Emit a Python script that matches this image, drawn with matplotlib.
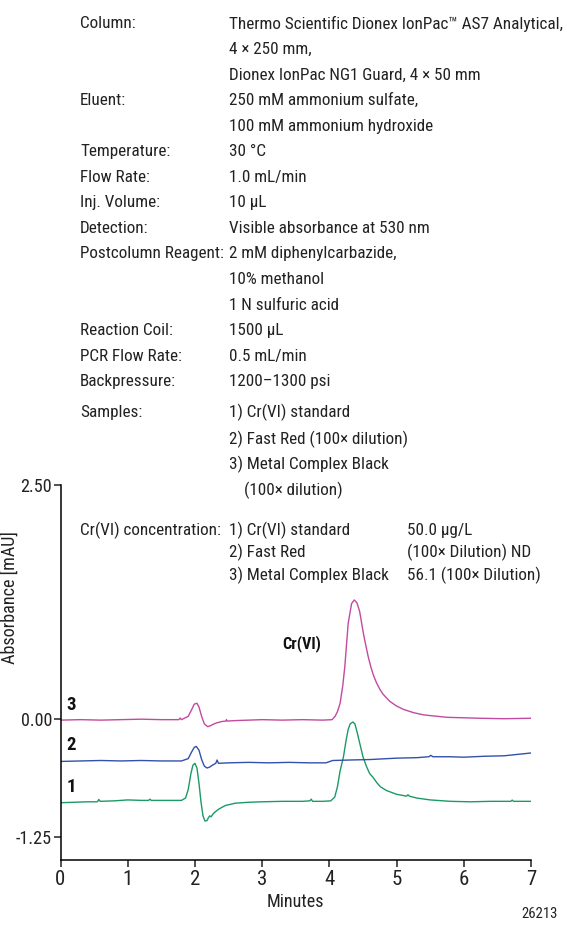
import matplotlib
matplotlib.use("Agg")
import matplotlib.pyplot as plt
from matplotlib import font_manager
from matplotlib.font_manager import FontProperties

# ---------------- data ----------------
# Trace 3: Metal Complex Black (magenta)
t3 = [0.0, 0.3, 0.6, 0.9, 1.2, 1.5, 1.76, 1.78, 1.80, 1.90, 1.95, 1.99, 2.03, 2.06,
      2.10, 2.14, 2.19, 2.23, 2.27, 2.32, 2.40, 2.46, 2.47, 2.48, 2.6, 2.8, 3.0, 3.3,
      3.6, 3.9, 4.04, 4.085, 4.12, 4.16, 4.20, 4.23, 4.28, 4.33, 4.37, 4.41, 4.45,
      4.51, 4.55, 4.58, 4.62, 4.66, 4.70, 4.75, 4.80, 4.90, 5.00, 5.10, 5.25, 5.40,
      5.75, 6.24, 6.6, 7.0]
y3 = [-0.01, -0.005, -0.01, -0.005, 0.0, -0.005, -0.005, 0.012, -0.005, 0.03, 0.10,
      0.16, 0.17, 0.13, 0.03, -0.05, -0.08, -0.07, -0.055, -0.04, -0.025, -0.02,
      -0.005, -0.02, -0.015, -0.01, -0.005, -0.01, -0.005, -0.01, -0.005, 0.03,
      0.08, 0.17, 0.36, 0.56, 1.02, 1.23, 1.27, 1.24, 1.15, 0.90, 0.76, 0.66, 0.55,
      0.46, 0.39, 0.32, 0.265, 0.19, 0.14, 0.105, 0.07, 0.046, 0.02, 0.01, 0.005,
      0.01]

# Trace 2: Fast Red (blue)
t2 = [0.0, 0.3, 0.6, 0.9, 1.2, 1.5, 1.8, 1.90, 1.95, 1.99, 2.02, 2.06, 2.10, 2.14,
      2.18, 2.22, 2.26, 2.31, 2.33, 2.35, 2.5, 2.8, 3.1, 3.4, 3.7, 3.95, 4.05, 4.3,
      4.6, 5.0, 5.3, 5.48, 5.51, 5.54, 5.8, 6.0, 6.3, 6.6, 6.8, 7.0]
y2 = [-0.45, -0.445, -0.44, -0.445, -0.44, -0.445, -0.445, -0.42, -0.35, -0.30,
      -0.29, -0.33, -0.43, -0.50, -0.52, -0.51, -0.49, -0.47, -0.435, -0.47, -0.465,
      -0.46, -0.465, -0.46, -0.465, -0.465, -0.44, -0.435, -0.43, -0.415, -0.41,
      -0.40, -0.385, -0.40, -0.40, -0.405, -0.395, -0.39, -0.375, -0.36]

# Trace 1: Cr(VI) standard (green)
t1 = [0.0, 0.2, 0.4, 0.55, 0.57, 0.59, 0.8, 1.0, 1.2, 1.31, 1.33, 1.35, 1.6, 1.8,
      1.86, 1.90, 1.94, 1.97, 2.00, 2.03, 2.06, 2.09, 2.12, 2.15, 2.18, 2.20, 2.22,
      2.24, 2.28, 2.35, 2.45, 2.6, 2.8, 3.0, 3.3, 3.6, 3.71, 3.73, 3.75, 3.9, 4.02,
      4.08, 4.12, 4.16, 4.21, 4.25, 4.28, 4.31, 4.35, 4.38, 4.41, 4.45, 4.50, 4.55,
      4.60, 4.65, 4.68, 4.71, 4.76, 4.85, 5.0, 5.15, 5.17, 5.19, 5.3, 5.5, 5.8, 6.1,
      6.4, 6.7, 6.72, 6.74, 7.0]
y1 = [-0.89, -0.885, -0.88, -0.88, -0.855, -0.875, -0.87, -0.86, -0.865, -0.865,
      -0.852, -0.865, -0.865, -0.865, -0.84, -0.75, -0.58, -0.49, -0.47, -0.52,
      -0.68, -0.88, -1.03, -1.085, -1.08, -1.05, -1.03, -1.04, -1.00, -0.96, -0.92,
      -0.895, -0.885, -0.88, -0.875, -0.875, -0.87, -0.852, -0.875, -0.875, -0.87,
      -0.83, -0.72, -0.55, -0.40, -0.22, -0.11, -0.05, -0.03, -0.05, -0.13, -0.25,
      -0.40, -0.50, -0.58, -0.62, -0.65, -0.68, -0.72, -0.76, -0.80, -0.82, -0.805,
      -0.82, -0.84, -0.86, -0.875, -0.88, -0.875, -0.875, -0.862, -0.875, -0.875]

trace_labels = ["1", "2", "3"]
colors = ["#1b9a66", "#3450a8", "#c24a9f"]

x_ticks = [0, 1, 2, 3, 4, 5, 6, 7]
y_ticks = [-1.25, 0.0, 2.50]
y_tick_labels = ["-1.25", "0.00", "2.50"]

header_rows = [
    ("Column:", "Thermo Scientific Dionex IonPac\u2122 AS7 Analytical,"),
    ("", "4 \u00d7 250 mm,"),
    ("", "Dionex IonPac NG1 Guard, 4 \u00d7 50 mm"),
    ("Eluent:", "250 mM ammonium sulfate,"),
    ("", "100 mM ammonium hydroxide"),
    ("Temperature:", "30 \u00b0C"),
    ("Flow Rate:", "1.0 mL/min"),
    ("Inj. Volume:", "10 \u00b5L"),
    ("Detection:", "Visible absorbance at 530 nm"),
    ("Postcolumn Reagent:", "2 mM diphenylcarbazide,"),
    ("", "10% methanol"),
    ("", "1 N sulfuric acid"),
    ("Reaction Coil:", "1500 \u00b5L"),
    ("PCR Flow Rate:", "0.5 mL/min"),
    ("Backpressure:", "1200\u20131300 psi"),
]
sample_rows = [
    ("Samples:", "1) Cr(VI) standard"),
    ("", "2) Fast Red (100\u00d7 dilution)"),
    ("", "3) Metal Complex Black"),
    ("", "(100\u00d7 dilution)"),
]
conc_label = "Cr(VI) concentration:"
conc_samples = ["1) Cr(VI) standard", "2) Fast Red", "3) Metal Complex Black"]
conc_values = ["50.0 \u00b5g/L", "(100\u00d7 Dilution) ND", "56.1 (100\u00d7 Dilution)"]

# ---------------- font choice ----------------
def _w(f):
    w = f.weight
    if isinstance(w, str):
        w = font_manager.weight_dict.get(w, 400)
    return w

pref = ["liberation sans narrow", "roboto condensed", "open sans condensed",
        "dejavu sans condensed", "noto sans condensed", "arial narrow"]
cond = []
for f in font_manager.fontManager.ttflist:
    key = (f.name + " " + f.fname).lower()
    if f.style != "normal":
        continue
    if ("narrow" in key or "condensed" in key or
            f.stretch in ("condensed", "semi-condensed")) and "extra" not in key \
            and "ultra" not in key and "mono" not in key and "serif" not in key:
        cond.append(f)

def rank(f):
    key = (f.name + " " + f.fname).lower()
    for i, p in enumerate(pref):
        if p in key:
            return i
    return len(pref)

reg = sorted([f for f in cond if 350 <= _w(f) <= 500], key=rank)
bold = sorted([f for f in cond if _w(f) >= 650], key=rank)

if reg:
    FP_REG = dict(fname=reg[0].fname)
    FP_BOLD = dict(fname=bold[0].fname) if bold else dict(family="Roboto", weight="bold")
else:
    FP_REG = dict(family="Roboto")
    FP_BOLD = dict(family="Roboto", weight="bold")

def fp(size, b=False):
    d = FP_BOLD if b else FP_REG
    return FontProperties(size=size, **d)

W, H = 567, 926
fig = plt.figure(figsize=(W / 100, H / 100), dpi=100)
renderer = fig.canvas.get_renderer()

# fit header size so the longest header line spans its reference width
probe = fig.text(0, 0, header_rows[0][1], fontproperties=fp(12))
pw = probe.get_window_extent(renderer).width
probe.remove()
BASE = min(13.0, 12 * 334.0 / pw)

# ---------------- axes ----------------
ax = fig.add_axes([60.5 / W, 1 - 860 / H, (531 - 60.5) / W, (860 - 484.5) / H])

for t, y, c in zip([t1, t2, t3], [y1, y2, y3], colors):
    ax.plot(t, y, color=c, lw=1.0)

ax.set_xlim(0, 7)
ax.set_ylim(-1.50, 2.50)
ax.set_xticks(x_ticks)
ax.set_xticklabels([str(v) for v in x_ticks], fontproperties=fp(15))
ax.set_yticks(y_ticks)
ax.set_yticklabels(y_tick_labels, fontproperties=fp(BASE * 1.06))
for s in ["top", "right"]:
    ax.spines[s].set_visible(False)
for s in ["left", "bottom"]:
    ax.spines[s].set_linewidth(1.1)
ax.tick_params(axis="both", direction="out", length=5, width=1.1, color="#222222",
               labelcolor="#222222", pad=1)
ax.tick_params(axis="x", pad=2)
ax.set_xlabel("Minutes", fontproperties=fp(BASE * 1.06), color="#222222", labelpad=3)
ax.set_ylabel("Absorbance [mAU]", fontproperties=fp(BASE * 1.06), color="#222222")
ax.yaxis.set_label_coords((19 - 60.5) / (531 - 60.5), (860 - 598) / (860 - 484.5))

# trace numbers
lab_y = [-0.72, -0.275, 0.15]
for lab, yy in zip(trace_labels, lab_y):
    ax.text(0.09, yy, lab, fontproperties=fp(13.5, True), ha="left", va="center",
            color="#111111")
ax.text(3.59, 0.81, "Cr(VI)", fontproperties=fp(BASE * 0.95, True), ha="center",
        va="center", color="#111111")

# header text
def ftext(x, y, s):
    fig.text(x / W, 1 - y / H, s, fontproperties=fp(BASE), color="#222222",
             va="center", ha="left")

y0, dy = 24, 25.55
for i, (lab, val) in enumerate(header_rows):
    yy = y0 + dy * i
    if lab:
        ftext(80, yy, lab)
    ftext(229, yy, val)

ys = [412, 439, 464, 490]
xs = [229, 229, 229, 244]
for (lab, val), yy, xx in zip(sample_rows, ys, xs):
    if lab:
        ftext(80, yy, lab)
    ftext(xx, yy, val)

yc = [530, 552.5, 575]
ftext(80, yc[0], conc_label)
for s, v, yy in zip(conc_samples, conc_values, yc):
    ftext(229, yy, s)
    ftext(407, yy, v)

fig.text(540 / W, 1 - 914 / H, "26213", fontproperties=fp(BASE * 0.85),
         color="#222222", ha="center", va="center")

fig.savefig("out.png", dpi=100)
